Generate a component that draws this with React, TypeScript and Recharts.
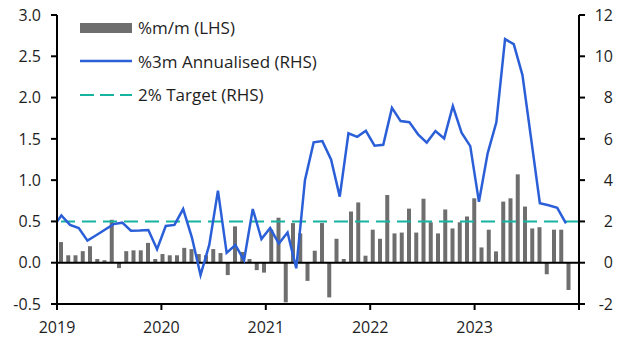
import React from "react";
import { ComposedChart, Bar, Line, XAxis, YAxis, ReferenceLine } from "recharts";

// %m/m bars (LHS) – drawn on their own squeezed category axis, as in the source chart
const mmValues = [
  0.25, 0.09, 0.09, 0.14, 0.2, 0.045, 0.03, 0.52, -0.065, 0.14, 0.15, 0.15,
  0.24, 0.045, 0.105, 0.09, 0.09, 0.18, 0.165, 0.105, 0.09, 0.165, 0.117, -0.15,
  0.44, 0.13, 0.045, -0.09, -0.12, 0.4, 0.545, -0.48, 0.48, 0.355, -0.22, 0.145,
  0.48, -0.42, 0.29, 0.045, 0.62, 0.73, 0.085, 0.4, 0.29, 0.82, 0.355, 0.365,
  0.655, 0.365, 0.775, 0.49, 0.355, 0.645, 0.415, 0.49, 0.56, 0.78, 0.185, 0.4,
  0.137, 0.74, 0.78, 1.07, 0.68, 0.415, 0.43, -0.14, 0.4, 0.4, -0.33,
];

// %3m annualised (RHS), monthly Jan 2019 – Nov 2023
const annualisedValues = [
  2.29, 1.83, 1.68, 1.07, 1.33, 1.6, 1.87, 1.94, 1.55, 1.56, 1.58, 0.65,
  1.78, 1.83, 2.6, 1.23, -0.6, 0.86, 3.49, 0.48, 0.86, 0.12, 2.6, 1.15,
  1.68, 0.93, 1.46, -0.27, 4.0, 5.83, 5.89, 5.0, 3.2, 6.27, 6.1, 6.39,
  5.67, 5.71, 7.5, 6.86, 6.81, 6.22, 5.82, 6.38, 6.02, 7.59, 6.3, 5.65,
  2.95, 5.3, 6.8, 10.83, 10.59, 9.09, 6.0, 2.88, 2.78, 2.66, 1.91,
];
const annualisedDec2018 = 1.7; // clipped at the left edge

const yearLabels = ["2019", "2020", "2021", "2022", "2023", "2024"];
const leftTicks = [-0.5, 0, 0.5, 1, 1.5, 2, 2.5, 3];
const rightTicks = [-2, 0, 2, 4, 6, 8, 10, 12];
const target = 2;

const BAR_COLOR = "#6e6e6e";
const LINE_COLOR = "#2a5fd8";
const TARGET_COLOR = "#17b3a1";
const TEXT_COLOR = "#1e1e1e";
const FONT = "'Open Sans', sans-serif";

// one empty slot at the end, as in the original
const barRows = [...mmValues, null].map((v, i) => ({ slot: i, mm: v }));
const lineRows = [annualisedDec2018, ...annualisedValues].map((v, i) => ({ m: i - 1, ann: v }));
const monthsPerYear = 12;
const yearTickPos = yearLabels.map((_, i) => i * monthsPerYear - 0.5);

const tickStyle = { fontSize: 16, fill: TEXT_COLOR, fontFamily: FONT };
const axisLine = { stroke: "#000", strokeWidth: 2 };

function ChartLegend() {
  const rows = [
    { label: "%m/m (LHS)", kind: "bar" },
    { label: "%3m Annualised (RHS)", kind: "line" },
    { label: "2% Target (RHS)", kind: "dash" },
  ];
  return (
    <div style={{ position: "absolute", left: 80, top: 11, fontFamily: FONT, fontSize: 17, color: TEXT_COLOR }}>
      {rows.map((r) => (
        <div key={r.label} style={{ display: "flex", alignItems: "center", height: 33.5 }}>
          <svg width={52} height={12} style={{ marginRight: 6 }}>
            {r.kind === "bar" && <rect x={0} y={1} width={52} height={10} fill={BAR_COLOR} />}
            {r.kind === "line" && <line x1={0} x2={52} y1={6} y2={6} stroke={LINE_COLOR} strokeWidth={2.5} />}
            {r.kind === "dash" && (
              <line x1={0} x2={52} y1={6} y2={6} stroke={TARGET_COLOR} strokeWidth={2} strokeDasharray="14 6" />
            )}
          </svg>
          <span style={{ whiteSpace: "nowrap" }}>{r.label}</span>
        </div>
      ))}
    </div>
  );
}

export default function App() {
  return (
    <div style={{ position: "absolute", left: 0, top: 0, width: 629, height: 354, background: "#fff" }}>
      <ComposedChart width={629} height={354} data={barRows} margin={{ top: 15, right: 10, bottom: 20, left: 0 }}>
        <XAxis
          xAxisId="bars"
          dataKey="slot"
          type="category"
          orientation="top"
          height={0}
          hide
          padding={{ left: 0, right: 0 }}
        />
        <XAxis
          xAxisId="months"
          dataKey="m"
          type="number"
          domain={[-0.5, 59.5]}
          allowDataOverflow
          ticks={yearTickPos}
          tickFormatter={(v: number) => {
            const i = yearTickPos.indexOf(v);
            return i >= 0 && i < yearLabels.length - 1 ? yearLabels[i] : "";
          }}
          height={30}
          tickSize={6}
          tickMargin={12}
          axisLine={axisLine}
          tickLine={axisLine}
          tick={tickStyle}
          interval={0}
        />
        <YAxis
          yAxisId="left"
          domain={[-0.5, 3]}
          ticks={leftTicks}
          tickFormatter={(v: number) => v.toFixed(1)}
          width={57}
          tickSize={6}
          tickMargin={10}
          axisLine={axisLine}
          tickLine={axisLine}
          tick={tickStyle}
          interval={0}
        />
        <YAxis
          yAxisId="right"
          orientation="right"
          domain={[-2, 12]}
          ticks={rightTicks}
          width={40}
          tickSize={6}
          tickMargin={2}
          axisLine={axisLine}
          tickLine={axisLine}
          tick={{ ...tickStyle, textAnchor: "end", dx: 26 }}
          interval={0}
        />
        <Bar xAxisId="bars" yAxisId="left" dataKey="mm" fill={BAR_COLOR} barSize={4} isAnimationActive={false} />
        <ReferenceLine xAxisId="months" yAxisId="left" y={0} stroke="#000" strokeWidth={2} />
        <ReferenceLine
          xAxisId="months"
          yAxisId="right"
          y={target}
          stroke={TARGET_COLOR}
          strokeWidth={2}
          strokeDasharray="14 7"
        />
        <Line
          xAxisId="months"
          yAxisId="right"
          data={lineRows}
          dataKey="ann"
          type="linear"
          stroke={LINE_COLOR}
          strokeWidth={2.5}
          dot={false}
          activeDot={false}
          isAnimationActive={false}
        />
      </ComposedChart>
      <ChartLegend />
    </div>
  );
}
